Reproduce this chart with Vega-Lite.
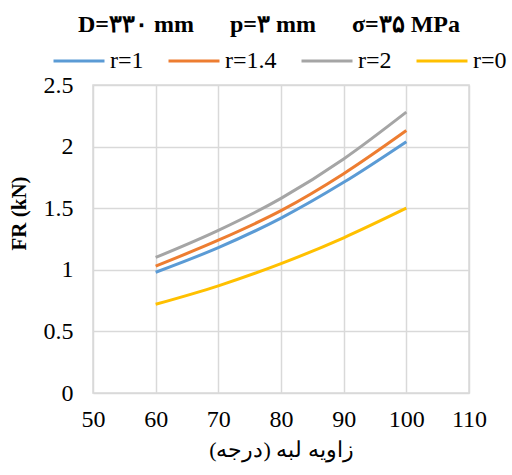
{
  "$schema": "https://vega.github.io/schema/vega-lite/v6.json",
  "width": 376,
  "height": 308,
  "autosize": {"type": "none"},
  "padding": {"left": 93, "top": 85, "right": 43, "bottom": 82},
  "background": "white",
  "title": {
    "text": "D=۳۳۰ mm\u00a0\u00a0\u00a0\u00a0\u00a0 p=۳ mm\u00a0\u00a0\u00a0\u00a0\u00a0 σ=۳۵ MPa",
    "font": "Times New Roman, Liberation Serif, serif",
    "fontSize": 24,
    "fontWeight": "bold",
    "color": "#000000",
    "anchor": "middle",
    "dx": -12,
    "dy": 18,
    "offset": 15
  },
  "data": {
    "values": [
      {"angle": 60, "FR": 0.98, "r": "r=1"},
      {"angle": 70, "FR": 1.18, "r": "r=1"},
      {"angle": 80, "FR": 1.42, "r": "r=1"},
      {"angle": 90, "FR": 1.71, "r": "r=1"},
      {"angle": 100, "FR": 2.04, "r": "r=1"},
      {"angle": 60, "FR": 1.03, "r": "r=1.4"},
      {"angle": 70, "FR": 1.24, "r": "r=1.4"},
      {"angle": 80, "FR": 1.48, "r": "r=1.4"},
      {"angle": 90, "FR": 1.78, "r": "r=1.4"},
      {"angle": 100, "FR": 2.13, "r": "r=1.4"},
      {"angle": 60, "FR": 1.10, "r": "r=2"},
      {"angle": 70, "FR": 1.32, "r": "r=2"},
      {"angle": 80, "FR": 1.58, "r": "r=2"},
      {"angle": 90, "FR": 1.90, "r": "r=2"},
      {"angle": 100, "FR": 2.28, "r": "r=2"},
      {"angle": 60, "FR": 0.72, "r": "r=0"},
      {"angle": 70, "FR": 0.87, "r": "r=0"},
      {"angle": 80, "FR": 1.05, "r": "r=0"},
      {"angle": 90, "FR": 1.26, "r": "r=0"},
      {"angle": 100, "FR": 1.50, "r": "r=0"}
    ]
  },
  "mark": {"type": "line", "strokeWidth": 3, "interpolate": "monotone"},
  "encoding": {
    "x": {
      "field": "angle",
      "type": "quantitative",
      "scale": {"domain": [50, 110], "nice": false, "zero": false},
      "axis": {
        "values": [50, 60, 70, 80, 90, 100, 110],
        "title": "زاویه لبه (درجه)",
        "titleFont": "Times New Roman, Liberation Serif, serif",
        "titleFontSize": 22,
        "titleFontWeight": "normal",
        "titleColor": "#000000",
        "titlePadding": 8,
        "labelFont": "Times New Roman, Liberation Serif, serif",
        "labelFontSize": 24,
        "labelColor": "#000000",
        "labelPadding": 14,
        "labelFlush": false,
        "labelOverlap": false,
        "ticks": false,
        "domain": false,
        "grid": true,
        "gridColor": "#D9D9D9",
        "gridWidth": 1.5
      }
    },
    "y": {
      "field": "FR",
      "type": "quantitative",
      "scale": {"domain": [0, 2.5], "nice": false},
      "axis": {
        "values": [0, 0.5, 1, 1.5, 2, 2.5],
        "format": "~g",
        "title": "FR (kN)",
        "titleFont": "Times New Roman, Liberation Serif, serif",
        "titleFontSize": 21,
        "titleFontWeight": "bold",
        "titleColor": "#000000",
        "titleX": -74,
        "titleY": 128,
        "titleAlign": "center",
        "titleBaseline": "middle",
        "labelFont": "Times New Roman, Liberation Serif, serif",
        "labelFontSize": 24,
        "labelColor": "#000000",
        "labelPadding": 20,
        "labelOverlap": false,
        "labelFlush": false,
        "ticks": false,
        "domain": false,
        "grid": true,
        "gridColor": "#D9D9D9",
        "gridWidth": 1.5
      }
    },
    "color": {
      "field": "r",
      "type": "nominal",
      "scale": {
        "domain": ["r=1", "r=1.4", "r=2", "r=0"],
        "range": ["#5B9BD5", "#ED7D31", "#A5A5A5", "#FFC000"]
      },
      "legend": {
        "title": null,
        "orient": "none",
        "direction": "horizontal",
        "legendX": -41,
        "legendY": -51,
        "symbolType": "stroke",
        "symbolSize": 2600,
        "symbolStrokeWidth": 3,
        "labelFont": "Times New Roman, Liberation Serif, serif",
        "labelFontSize": 24,
        "labelColor": "#000000",
        "labelOffset": 4,
        "columnPadding": 18
      }
    }
  },
  "config": {
    "view": {"stroke": "#D9D9D9", "strokeWidth": 1.5}
  }
}
